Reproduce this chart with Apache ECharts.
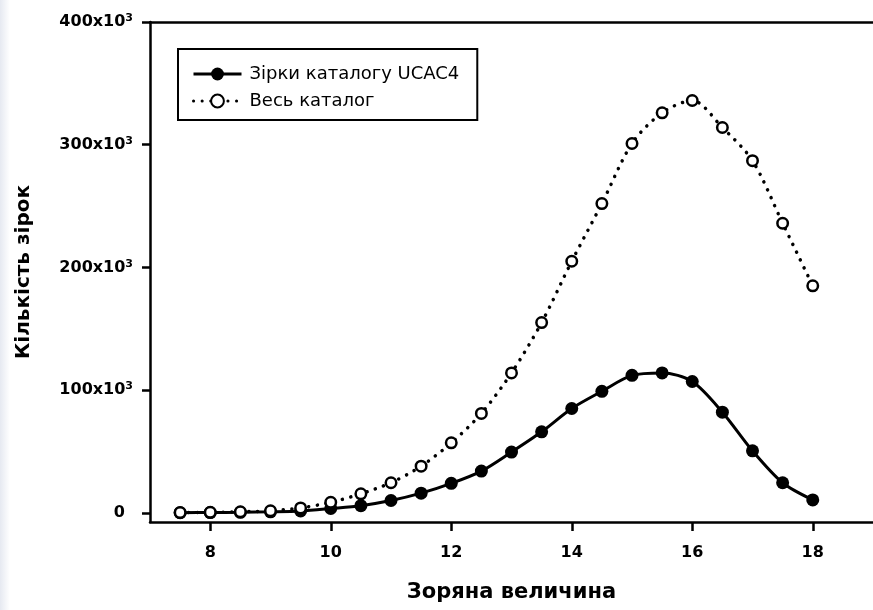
<!DOCTYPE html>
<html>
<head>
<meta charset="utf-8">
<script src="https://cdn.jsdelivr.net/npm/echarts@6/dist/echarts.min.js"></script>
<style>
  html, body { margin: 0; padding: 0; background: #fff; }
  #chart { width: 873px; height: 610px; }
</style>
</head>
<body>
<div id="chart"></div>
<script>
// Star counts per magnitude bin
const magnitudes = [7.5, 8, 8.5, 9, 9.5, 10, 10.5, 11, 11.5, 12, 12.5, 13, 13.5, 14, 14.5, 15, 15.5, 16, 16.5, 17, 17.5, 18];
const ucac4Stars = [100, 200, 400, 800, 1500, 3500, 5800, 10000, 16000, 24000, 34000, 49500, 66000, 85000, 99000, 112000, 114000, 107000, 82000, 50500, 24500, 10500];
const allStars = [200, 400, 800, 1600, 4000, 8500, 15500, 24500, 38000, 57000, 81000, 114000, 155000, 205000, 252000, 301000, 326000, 336000, 314000, 287000, 236000, 185000];
const xTicks = [8, 10, 12, 14, 16, 18];
const yTicks = [0, 100000, 200000, 300000, 400000];

const seriesNames = ['Зірки каталогу UCAC4', 'Весь каталог'];
const toPairs = vals => magnitudes.map((m, i) => [m, vals[i]]);

const labelFont = 'DejaVu Sans';

const chart = echarts.init(document.getElementById('chart'));
chart.setOption({
  animation: false,
  backgroundColor: '#fff',
  graphic: [{
    type: 'rect',
    left: 0, top: 0,
    shape: { width: 10, height: 610 },
    style: {
      fill: new echarts.graphic.LinearGradient(0, 0, 1, 0, [
        { offset: 0, color: '#e6e9f1' },
        { offset: 1, color: '#ffffff' }
      ])
    },
    silent: true
  }],
  grid: { left: 150, right: 0, top: 22, bottom: 88 },
  legend: {
    orient: 'vertical',
    left: 178,
    top: 49,
    padding: [16, 18, 10, 14],
    borderColor: '#000',
    borderWidth: 2,
    itemWidth: 48,
    itemHeight: 16,
    itemGap: 9,
    data: seriesNames,
    lineStyle: { width: 3 },
    textStyle: { fontFamily: labelFont, fontSize: 18, color: '#000', padding: [0, 0, 0, 3] }
  },
  xAxis: [{
    type: 'value',
    min: 7,
    max: 19,
    name: 'Зоряна величина',
    nameLocation: 'middle',
    nameGap: 60,
    nameTextStyle: { fontFamily: labelFont, fontSize: 21, fontWeight: 'bold', color: '#000' },
    splitLine: { show: false },
    axisLine: { show: true, onZero: false, lineStyle: { color: '#000', width: 2.5 } },
    axisTick: { show: true, length: 9, customValues: xTicks, lineStyle: { color: '#000', width: 2.5 } },
    axisLabel: {
      customValues: xTicks,
      margin: 23,
      fontFamily: labelFont, fontSize: 16, fontWeight: 'bold', color: '#000'
    }
  }, {
    type: 'value',
    position: 'top',
    min: 7,
    max: 19,
    splitLine: { show: false },
    axisLine: { show: true, onZero: false, lineStyle: { color: '#000', width: 2.5 } },
    axisTick: { show: false },
    axisLabel: { show: false }
  }],
  yAxis: {
    type: 'value',
    min: -7500,
    max: 400000,
    name: 'Кількість зірок',
    nameLocation: 'middle',
    nameGap: 116,
    nameTextStyle: { fontFamily: labelFont, fontSize: 20, fontWeight: 'bold', color: '#000' },
    splitLine: { show: false },
    axisLine: { show: true, onZero: false, lineStyle: { color: '#000', width: 2.5 } },
    axisTick: { show: true, length: 8, customValues: yTicks, lineStyle: { color: '#000', width: 2.5 } },
    axisLabel: {
      customValues: yTicks,
      margin: 17,
      formatter: v => v === 0 ? '{n|0}{g|}' : '{n|' + (v / 1000) + 'x10}{s|3}',
      rich: {
        n: { fontFamily: labelFont, fontSize: 16, fontWeight: 'bold', color: '#000', lineHeight: 18 },
        s: { fontFamily: labelFont, fontSize: 11, fontWeight: 'bold', color: '#000', lineHeight: 11, verticalAlign: 'top' },
        g: { width: 8 }
      }
    }
  },
  series: [{
    name: seriesNames[0],
    type: 'line',
    data: toPairs(ucac4Stars),
    smooth: 0.3,
    symbol: 'circle',
    symbolSize: 13,
    itemStyle: { color: '#000' },
    lineStyle: { color: '#000', width: 3 },
    z: 2
  }, {
    name: seriesNames[1],
    type: 'line',
    data: toPairs(allStars),
    smooth: 0.3,
    symbol: 'circle',
    symbolSize: 10.5,
    itemStyle: { color: '#fff', borderColor: '#000', borderWidth: 2.5 },
    lineStyle: { color: '#000', width: 3.5, type: [0.1, 8.5], cap: 'round' },
    z: 3
  }]
});
</script>
</body>
</html>
